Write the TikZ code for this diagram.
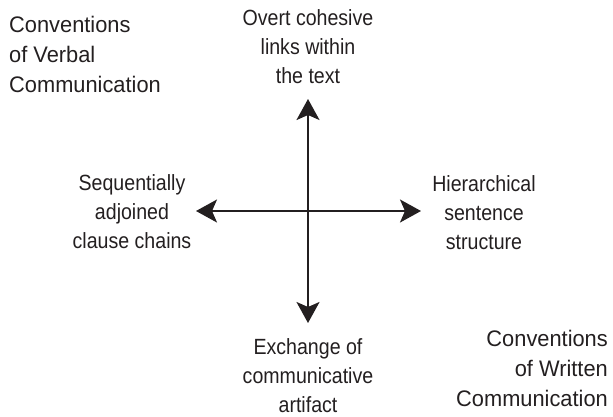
\documentclass[tikz,border=0pt]{standalone}
\usepackage{fontspec}
\setmainfont{Liberation Sans}
\newfontfamily\narrowfont[FakeStretch=0.89]{Liberation Sans}
\newfontfamily\cornerfont[FakeStretch=0.97]{Liberation Sans}
\usetikzlibrary{arrows.meta}

\definecolor{ink}{HTML}{231F20}

\tikzset{
    axis/.style={draw=ink,line width=2pt,
        {Stealth[length=21pt,width=23pt,inset=5pt]}-{Stealth[length=21pt,width=23pt,inset=5pt]}},
    pole/.style={inner sep=0pt,text=ink,align=center,
        font=\narrowfont\fontsize{22}{29}\selectfont},
    corner/.style={inner sep=0pt,text=ink,
        font=\cornerfont\fontsize{22.5}{30}\selectfont}
}

\begin{document}
\begin{tikzpicture}[x=1pt,y=-1pt]
    \useasboundingbox (0,0) rectangle (613,416);

    % the two conventions in opposite corners
    \node[corner,anchor=north west,align=left] (verbal) at (9,16)
        {Conventions\\of Verbal\\Communication};
    \node[corner,anchor=north east,align=right] (written) at (608,330)
        {Conventions\\of Written\\Communication};

    % labels at the four ends of the axes
    \node[pole,anchor=north] (cohesive) at (308,9) {Overt cohesive\\links within\\the text};
    \node[pole,anchor=north] (sequential) at (132,174) {Sequentially\\adjoined\\clause chains};
    \node[pole,anchor=north] (hierarchical) at (484,175) {Hierarchical\\sentence\\structure};
    \node[pole,anchor=north] (exchange) at (308,338) {Exchange of\\communicative\\artifact};

    % axes
    \coordinate (up) at (308,99);
    \coordinate (down) at (308,323);
    \coordinate (left) at (196,211);
    \coordinate (right) at (421,211);
    \draw[axis] (left) -- (right);
    \draw[axis] (up) -- (down);
\end{tikzpicture}
\end{document}
